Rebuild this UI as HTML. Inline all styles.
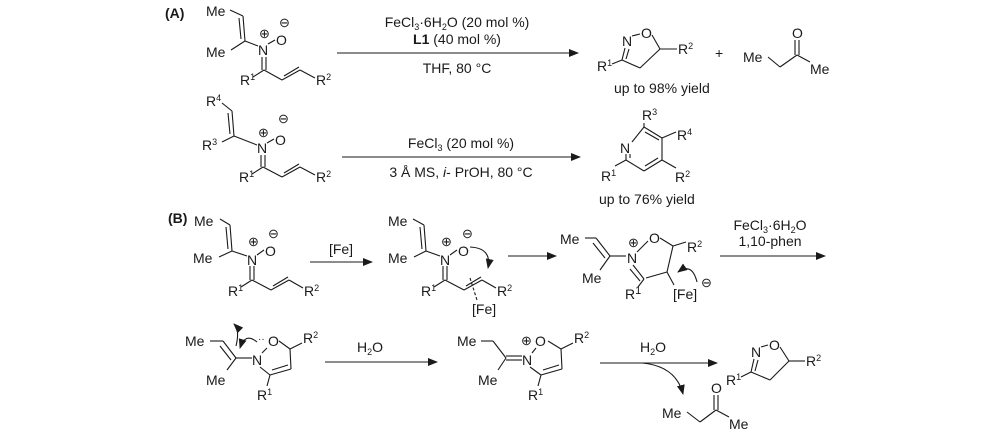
<!DOCTYPE html>
<html><head><meta charset="utf-8"><style>
html,body{margin:0;padding:0;background:#fff;}
svg{display:block;}
text{font-family:"Liberation Sans",Arial,sans-serif;font-size:14px;fill:#1a1a1a;}
.s{font-size:9px;}
.c{font-size:13px;}
line,polyline,path{stroke:#1a1a1a;stroke-width:1.1;fill:none;}
.b{font-weight:bold;}
</style></head><body>
<svg width="1000" height="433" viewBox="0 0 1000 433" xmlns="http://www.w3.org/2000/svg">
<defs><marker id="ah" markerWidth="10" markerHeight="8" refX="9" refY="4" orient="auto" markerUnits="userSpaceOnUse"><path d="M0,0 L10,4 L0,8 Z" style="fill:#1a1a1a;stroke:none"/></marker></defs>

<!-- (A) row 1 -->
<text x="165" y="18" class="b">(A)</text>
<text x="206" y="16">Me</text>
<text x="206" y="57">Me</text>
<line x1="230" y1="10" x2="243" y2="16"/>
<line x1="243" y1="16" x2="245" y2="41"/><line x1="239" y1="18" x2="241" y2="39"/>
<line x1="245" y1="41" x2="231" y2="50"/>
<line x1="245" y1="41" x2="258" y2="46"/>
<text x="258" y="55">N</text><text x="259" y="38" class="c">⊕</text>
<line x1="268" y1="44" x2="275" y2="40"/>
<text x="276" y="45">O</text><text x="279" y="27" class="c">⊖</text>
<line x1="262" y1="57" x2="262" y2="70"/><line x1="266" y1="57" x2="266" y2="70"/>
<line x1="264" y1="70" x2="253" y2="77"/>
<text x="240" y="85">R<tspan class="s" dy="-5">1</tspan></text>
<line x1="264" y1="70" x2="282" y2="80"/>
<line x1="282" y1="80" x2="300" y2="70"/><line x1="284" y1="76" x2="299" y2="67"/>
<line x1="300" y1="70" x2="315" y2="78"/>
<text x="316" y="85">R<tspan class="s" dy="-5">2</tspan></text>

<line x1="337" y1="53" x2="578" y2="53" marker-end="url(#ah)"/>
<text x="457" y="27" text-anchor="middle">FeCl<tspan class="s" dy="3">3</tspan><tspan dy="-3">·6H</tspan><tspan class="s" dy="3">2</tspan><tspan dy="-3">O (20 mol %)</tspan></text>
<text x="457" y="44" text-anchor="middle"><tspan class="b">L1</tspan> (40 mol %)</text>
<text x="457" y="73" text-anchor="middle">THF, 80 °C</text>

<!-- isoxazoline A -->
<text x="622" y="46">N</text>
<line x1="632" y1="36" x2="640" y2="34"/>
<text x="641" y="38">O</text>
<line x1="652" y1="35" x2="660" y2="49"/>
<line x1="625" y1="48" x2="622" y2="60"/><line x1="629" y1="49" x2="626" y2="59"/>
<line x1="622" y1="60" x2="612" y2="64"/>
<text x="597" y="71">R<tspan class="s" dy="-5">1</tspan></text>
<line x1="622" y1="60" x2="640" y2="68"/>
<line x1="640" y1="68" x2="660" y2="49"/>
<line x1="660" y1="49" x2="677" y2="49"/>
<text x="678" y="54">R<tspan class="s" dy="-5">2</tspan></text>
<text x="715" y="58">+</text>
<text x="743" y="62">Me</text>
<line x1="768" y1="57" x2="780" y2="67"/>
<line x1="780" y1="67" x2="797" y2="55"/>
<line x1="795" y1="40" x2="795" y2="55"/><line x1="799" y1="40" x2="799" y2="55"/>
<text x="792" y="38">O</text>
<line x1="797" y1="55" x2="810" y2="62"/>
<text x="810" y="74">Me</text>
<text x="614" y="93">up to 98% yield</text>

<!-- (A) row 2 -->
<text x="206" y="106">R<tspan class="s" dy="-5">4</tspan></text>
<line x1="222" y1="103" x2="232" y2="111"/>
<line x1="232" y1="111" x2="234" y2="136"/><line x1="228" y1="113" x2="230" y2="134"/>
<line x1="234" y1="136" x2="222" y2="142"/>
<text x="202" y="150">R<tspan class="s" dy="-5">3</tspan></text>
<line x1="234" y1="136" x2="257" y2="145"/>
<text x="257" y="153">N</text><text x="258" y="137" class="c">⊕</text>
<line x1="267" y1="143" x2="274" y2="139"/>
<text x="275" y="145">O</text><text x="278" y="123" class="c">⊖</text>
<line x1="261" y1="155" x2="261" y2="167"/><line x1="265" y1="155" x2="265" y2="167"/>
<line x1="263" y1="167" x2="252" y2="174"/>
<text x="239" y="182">R<tspan class="s" dy="-5">1</tspan></text>
<line x1="263" y1="167" x2="282" y2="177"/>
<line x1="282" y1="177" x2="300" y2="167"/><line x1="284" y1="173" x2="299" y2="164"/>
<line x1="300" y1="167" x2="315" y2="175"/>
<text x="316" y="182">R<tspan class="s" dy="-5">2</tspan></text>

<line x1="342" y1="157" x2="580" y2="157" marker-end="url(#ah)"/>
<text x="461" y="148" text-anchor="middle">FeCl<tspan class="s" dy="3">3</tspan><tspan dy="-3"> (20 mol %)</tspan></text>
<text x="461" y="177" text-anchor="middle">3 Å MS, <tspan font-style="italic">i</tspan>- PrOH, 80 °C</text>

<!-- pyridine -->
<text x="642" y="120">R<tspan class="s" dy="-5">3</tspan></text>
<line x1="644" y1="123" x2="644" y2="127"/>
<line x1="644" y1="127" x2="662" y2="138"/><line x1="645" y1="132" x2="659" y2="140"/>
<line x1="662" y1="138" x2="676" y2="132"/>
<text x="677" y="140">R<tspan class="s" dy="-5">4</tspan></text>
<line x1="662" y1="138" x2="662" y2="160"/>
<line x1="662" y1="160" x2="676" y2="168"/>
<text x="675" y="182">R<tspan class="s" dy="-5">2</tspan></text>
<line x1="662" y1="160" x2="644" y2="171"/><line x1="658" y1="158" x2="645" y2="166"/>
<line x1="644" y1="171" x2="626" y2="160"/>
<line x1="626" y1="160" x2="626" y2="154"/><line x1="630" y1="158" x2="630" y2="154"/>
<line x1="632" y1="142" x2="644" y2="127"/>
<text x="620" y="153">N</text>
<line x1="626" y1="160" x2="615" y2="166"/>
<text x="601" y="181">R<tspan class="s" dy="-5">1</tspan></text>
<text x="599" y="204">up to 76% yield</text>

<!-- (B) row 1 -->
<text x="168" y="223" class="b">(B)</text>
<text x="194" y="226">Me</text>
<line x1="220" y1="219" x2="230" y2="225"/>
<line x1="230" y1="225" x2="232" y2="251"/><line x1="226" y1="227" x2="228" y2="249"/>
<line x1="232" y1="251" x2="219" y2="257"/>
<text x="193" y="263">Me</text>
<line x1="232" y1="251" x2="247" y2="256"/>
<text x="247" y="265">N</text><text x="248" y="246" class="c">⊕</text>
<line x1="257" y1="255" x2="264" y2="250"/>
<text x="265" y="256">O</text><text x="268" y="238" class="c">⊖</text>
<line x1="250" y1="266" x2="250" y2="280"/><line x1="254" y1="266" x2="254" y2="280"/>
<line x1="252" y1="280" x2="241" y2="287"/>
<text x="228" y="296">R<tspan class="s" dy="-5">1</tspan></text>
<line x1="252" y1="280" x2="271" y2="290"/>
<line x1="271" y1="290" x2="289" y2="280"/><line x1="273" y1="286" x2="288" y2="277"/>
<line x1="289" y1="280" x2="303" y2="288"/>
<text x="304" y="296">R<tspan class="s" dy="-5">2</tspan></text>

<line x1="310" y1="262" x2="372" y2="262" marker-end="url(#ah)"/>
<text x="341" y="254" text-anchor="middle">[Fe]</text>

<text x="388" y="226">Me</text>
<line x1="413" y1="219" x2="424" y2="225"/>
<line x1="424" y1="225" x2="426" y2="251"/><line x1="420" y1="227" x2="422" y2="249"/>
<line x1="426" y1="251" x2="414" y2="257"/>
<text x="388" y="263">Me</text>
<line x1="426" y1="251" x2="440" y2="256"/>
<text x="440" y="265">N</text><text x="441" y="246" class="c">⊕</text>
<line x1="450" y1="255" x2="457" y2="250"/>
<text x="458" y="256">O</text><text x="462" y="238" class="c">⊖</text>
<path d="M470,247 Q492,248 488,268" marker-end="url(#ah)"/>
<line x1="443" y1="266" x2="443" y2="280"/><line x1="447" y1="266" x2="447" y2="280"/>
<line x1="445" y1="280" x2="434" y2="287"/>
<text x="421" y="296">R<tspan class="s" dy="-5">1</tspan></text>
<line x1="445" y1="280" x2="464" y2="290"/>
<line x1="464" y1="290" x2="482" y2="280"/><line x1="466" y1="286" x2="481" y2="277"/>
<line x1="482" y1="280" x2="496" y2="288"/>
<text x="497" y="296">R<tspan class="s" dy="-5">2</tspan></text>
<line x1="470" y1="278" x2="477" y2="300" stroke-dasharray="3,2"/>
<text x="472" y="314">[Fe]</text>

<line x1="508" y1="256" x2="556" y2="256" marker-end="url(#ah)"/>

<text x="560" y="244">Me</text>
<line x1="585" y1="238" x2="596" y2="238"/>
<line x1="596" y1="238" x2="610" y2="256"/><line x1="593" y1="243" x2="605" y2="258"/>
<line x1="610" y1="256" x2="600" y2="270"/>
<text x="582" y="283">Me</text>
<line x1="610" y1="256" x2="626" y2="256"/>
<text x="627" y="263">N</text><text x="628" y="247" class="c">⊕</text>
<line x1="637" y1="252" x2="648" y2="241"/>
<text x="649" y="243">O</text>
<line x1="660" y1="238" x2="673" y2="246"/>
<line x1="673" y1="246" x2="686" y2="242"/>
<text x="687" y="252">R<tspan class="s" dy="-5">2</tspan></text>
<line x1="673" y1="246" x2="667" y2="272"/>
<line x1="667" y1="272" x2="646" y2="278"/>
<line x1="633" y1="265" x2="644" y2="279"/><line x1="630" y1="269" x2="640" y2="281"/>
<line x1="644" y1="279" x2="638" y2="287"/>
<text x="625" y="299">R<tspan style="font-size:11px" dy="-5">1</tspan></text>
<line x1="667" y1="272" x2="674" y2="285"/>
<text x="673" y="299">[Fe]</text>
<path d="M697,282 Q692,262 678,272" marker-end="url(#ah)"/>
<text x="701" y="287" class="c">⊖</text>

<line x1="720" y1="256" x2="825" y2="256" marker-end="url(#ah)"/>
<text x="770" y="230" text-anchor="middle">FeCl<tspan class="s" dy="3">3</tspan><tspan dy="-3">·6H</tspan><tspan class="s" dy="3">2</tspan><tspan dy="-3">O</tspan></text>
<text x="770" y="246" text-anchor="middle">1,10-phen</text>

<!-- (B) row 2 -->
<path d="M236,346 Q240,330 234,324" marker-end="url(#ah)"/>
<path d="M257,342 Q245,332 240,348" marker-end="url(#ah)"/>
<text x="185" y="346">Me</text>
<line x1="210" y1="341" x2="223" y2="341"/>
<line x1="223" y1="341" x2="236" y2="358"/><line x1="220" y1="346" x2="231" y2="360"/>
<line x1="236" y1="358" x2="227" y2="370"/>
<text x="206" y="385">Me</text>
<line x1="236" y1="358" x2="252" y2="358"/>
<text x="252" y="365">N</text>
<text x="258" y="342" style="font-size:10px">··</text>
<line x1="262" y1="353" x2="267" y2="348"/>
<text x="268" y="346">O</text>
<line x1="279" y1="341" x2="290" y2="349"/>
<line x1="290" y1="349" x2="302" y2="343"/>
<text x="303" y="343">R<tspan class="s" dy="-5">2</tspan></text>
<line x1="290" y1="349" x2="291" y2="369"/>
<line x1="291" y1="369" x2="270" y2="375"/><line x1="288" y1="365" x2="272" y2="370"/>
<line x1="260" y1="367" x2="270" y2="375"/>
<line x1="270" y1="375" x2="267" y2="386"/>
<text x="257" y="400">R<tspan class="s" dy="-5">1</tspan></text>

<line x1="325" y1="362" x2="437" y2="362" marker-end="url(#ah)"/>
<text x="357" y="352">H<tspan class="s" dy="3">2</tspan><tspan dy="-3">O</tspan></text>

<text x="457" y="346">Me</text>
<line x1="481" y1="341" x2="493" y2="341"/>
<line x1="493" y1="341" x2="506" y2="358"/>
<line x1="506" y1="358" x2="498" y2="370"/>
<text x="478" y="385">Me</text>
<line x1="506" y1="356" x2="522" y2="356"/><line x1="506" y1="360" x2="522" y2="360"/>
<text x="522" y="365">N</text><text x="521" y="345" class="c">⊕</text>
<line x1="532" y1="353" x2="536" y2="348"/>
<text x="535" y="346">O</text>
<line x1="548" y1="341" x2="561" y2="349"/>
<line x1="561" y1="349" x2="573" y2="343"/>
<text x="574" y="343">R<tspan class="s" dy="-5">2</tspan></text>
<line x1="561" y1="349" x2="562" y2="369"/>
<line x1="562" y1="369" x2="541" y2="375"/><line x1="559" y1="365" x2="543" y2="370"/>
<line x1="530" y1="367" x2="541" y2="375"/>
<line x1="541" y1="375" x2="538" y2="386"/>
<text x="528" y="400">R<tspan class="s" dy="-5">1</tspan></text>

<line x1="600" y1="363" x2="717" y2="363" marker-end="url(#ah)"/>
<text x="640" y="352">H<tspan class="s" dy="3">2</tspan><tspan dy="-3">O</tspan></text>
<path d="M642,363 Q676,366 683,394" marker-end="url(#ah)"/>
<text x="662" y="418">Me</text>
<line x1="687" y1="412" x2="700" y2="422"/>
<line x1="700" y1="422" x2="716" y2="410"/>
<line x1="714" y1="395" x2="714" y2="410"/><line x1="718" y1="395" x2="718" y2="410"/>
<text x="711" y="393">O</text>
<line x1="716" y1="410" x2="729" y2="417"/>
<text x="729" y="429">Me</text>

<text x="751" y="357">N</text>
<line x1="761" y1="347" x2="768" y2="345"/>
<text x="769" y="350">O</text>
<line x1="780" y1="347" x2="789" y2="361"/>
<line x1="754" y1="359" x2="751" y2="372"/><line x1="758" y1="360" x2="755" y2="371"/>
<line x1="751" y1="372" x2="741" y2="377"/>
<text x="726" y="385">R<tspan class="s" dy="-5">1</tspan></text>
<line x1="751" y1="372" x2="770" y2="380"/>
<line x1="770" y1="380" x2="789" y2="361"/>
<line x1="789" y1="361" x2="805" y2="361"/>
<text x="806" y="366">R<tspan class="s" dy="-5">2</tspan></text>
</svg>
</body></html>
